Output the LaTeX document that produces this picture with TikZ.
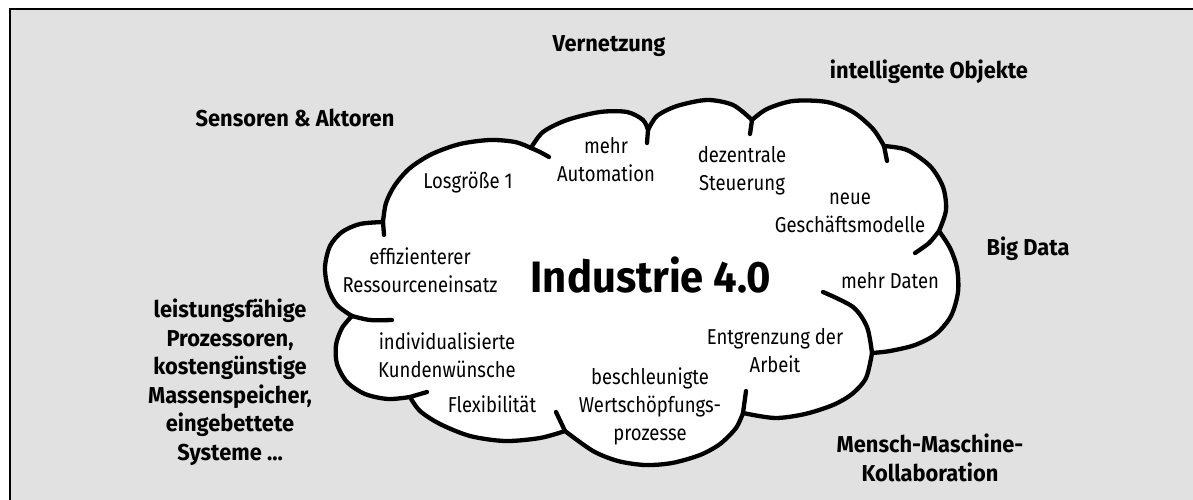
\documentclass[tikz,border=0pt]{standalone}
\usepackage{fontspec}
\setmainfont{Fira Sans}[FakeStretch=0.86]
\newfontfamily\driverfont{Fira Sans}[FakeStretch=0.95]
\definecolor{bggray}{RGB}{225,225,225}

\begin{document}
\begin{tikzpicture}[x=1pt,y=-1pt,
  idea/.style={font=\fontsize{21.5}{28}\selectfont,align=center,anchor=base,inner sep=0pt},
  driver/.style={font=\driverfont\bfseries\fontsize{23}{28.5}\selectfont,align=center,anchor=base,inner sep=0pt},
  cloudline/.style={line width=4.3pt,line join=round,line cap=round}]
\useasboundingbox (0,0) rectangle (1193,500);
\fill[white] (0,0) rectangle (1193,500);
\fill[bggray] (10,9) rectangle (1193,500);
\draw[line width=1.6pt] (10,500) -- (10,9) -- (1193,9);

% junctions of the cloud bumps
\coordinate (j1) at (383,222);
\coordinate (j2) at (531,148);
\coordinate (j3) at (648,130);
\coordinate (j4) at (752,120);
\coordinate (j5) at (884,146);
\coordinate (j6) at (939,231);
\coordinate (j7) at (872,353);
\coordinate (j8) at (743,413);
\coordinate (j9) at (565,431);
\coordinate (j10) at (410,397);
\coordinate (j11) at (352,316);

% cloud outline, one smooth bump after the other
\filldraw[cloudline,fill=white]
  plot[smooth] coordinates {(j1) (386,203) (395,185) (410,168) (432,154) (460,144) (490,140) (515,142) (j2)}
  -- plot[smooth] coordinates {(j2) (543,132) (567,120) (600,112) (627,112) (643,120) (j3)}
  -- plot[smooth] coordinates {(j3) (657,116) (677,106) (707,100) (733,105) (j4)}
  -- plot[smooth] coordinates {(j4) (767,109) (793,101) (827,102) (853,112) (873,129) (j5)}
  -- plot[smooth] coordinates {(j5) (907,150) (930,166) (943,187) (946,210) (j6)}
  -- plot[smooth] coordinates {(j6) (950,248) (957,268) (958,292) (951,316) (936,334) (915,345) (890,351) (j7)}
  -- plot[smooth] coordinates {(j7) (866,378) (852,394) (833,405) (805,414) (775,418) (j8)}
  -- plot[smooth] coordinates {(j8) (736,428) (720,444) (700,455) (672,463) (645,465) (618,461) (593,451) (j9)}
  -- plot[smooth] coordinates {(j9) (540,438) (505,441) (470,436) (440,424) (420,411) (j10)}
  -- plot[smooth] coordinates {(j10) (388,399) (365,394) (347,382) (337,364) (336,345) (342,328) (j11)}
  -- plot[smooth] coordinates {(j11) (337,305) (328,288) (325,267) (330,246) (342,232) (360,224) (j1)}
  -- cycle;

% short ends reaching into the cloud
\draw[cloudline] (j1) -- (384,235);
\draw[cloudline] plot[smooth] coordinates {(j2) (540,152) (549,157)};
\draw[cloudline] (j3) -- (647,143);
\draw[cloudline] (j4) -- (750,134);
\draw[cloudline] (j5) -- (887,161);
\draw[cloudline] plot[smooth] coordinates {(j6) (929,243) (915,253)};
\draw[cloudline] plot[smooth] coordinates {(j7) (867,327) (853,307) (823,292)};
\draw[cloudline] (j8) -- (746,391);
\draw[cloudline] (j9) -- (556,412);
\draw[cloudline] (j10) -- (427,392);
\draw[cloudline] plot[smooth] coordinates {(j11) (370,320) (392,320)};

% inside the cloud
\node[font=\driverfont\bfseries\fontsize{44}{48}\selectfont,anchor=base,inner sep=0pt] (core) at (651,292) {Industrie 4.0};
\node[idea] (auto) at (606,181) {mehr\\Automation};
\node[idea] (losg) at (468,188) {Losgröße 1};
\node[idea] (steuer) at (742,190) {dezentrale\\Steuerung};
\node[idea] (modell) at (850,232) {neue\\Geschäftsmodelle};
\node[idea] (ress) at (420,292) {effizienterer\\Ressourceneinsatz};
\node[idea] (daten) at (890,288) {mehr Daten};
\node[idea] (kunden) at (447,377) {individualisierte\\Kundenwünsche};
\node[idea] (arbeit) at (775,372) {Entgrenzung der\\Arbeit};
\node[idea] (flex) at (492,412) {Flexibilität};
\node[idea] (wert) at (650,440) {beschleunigte\\Wertschöpfungs-\\prozesse};

% around the cloud
\node[driver] (netz) at (609,52) {Vernetzung};
\node[driver] (objekte) at (929,79) {intelligente Objekte};
\node[driver] (sensor) at (295,126) {Sensoren \& Aktoren};
\node[driver] (bigdata) at (1028,255) {Big Data};
\node[driver] (hardware) at (230,460) {leistungsfähige\\Prozessoren,\\kostengünstige\\Massenspeicher,\\eingebettete\\Systeme ...};
\node[driver] (mmk) at (930,481) {Mensch-Maschine-\\Kollaboration};
\end{tikzpicture}
\end{document}
